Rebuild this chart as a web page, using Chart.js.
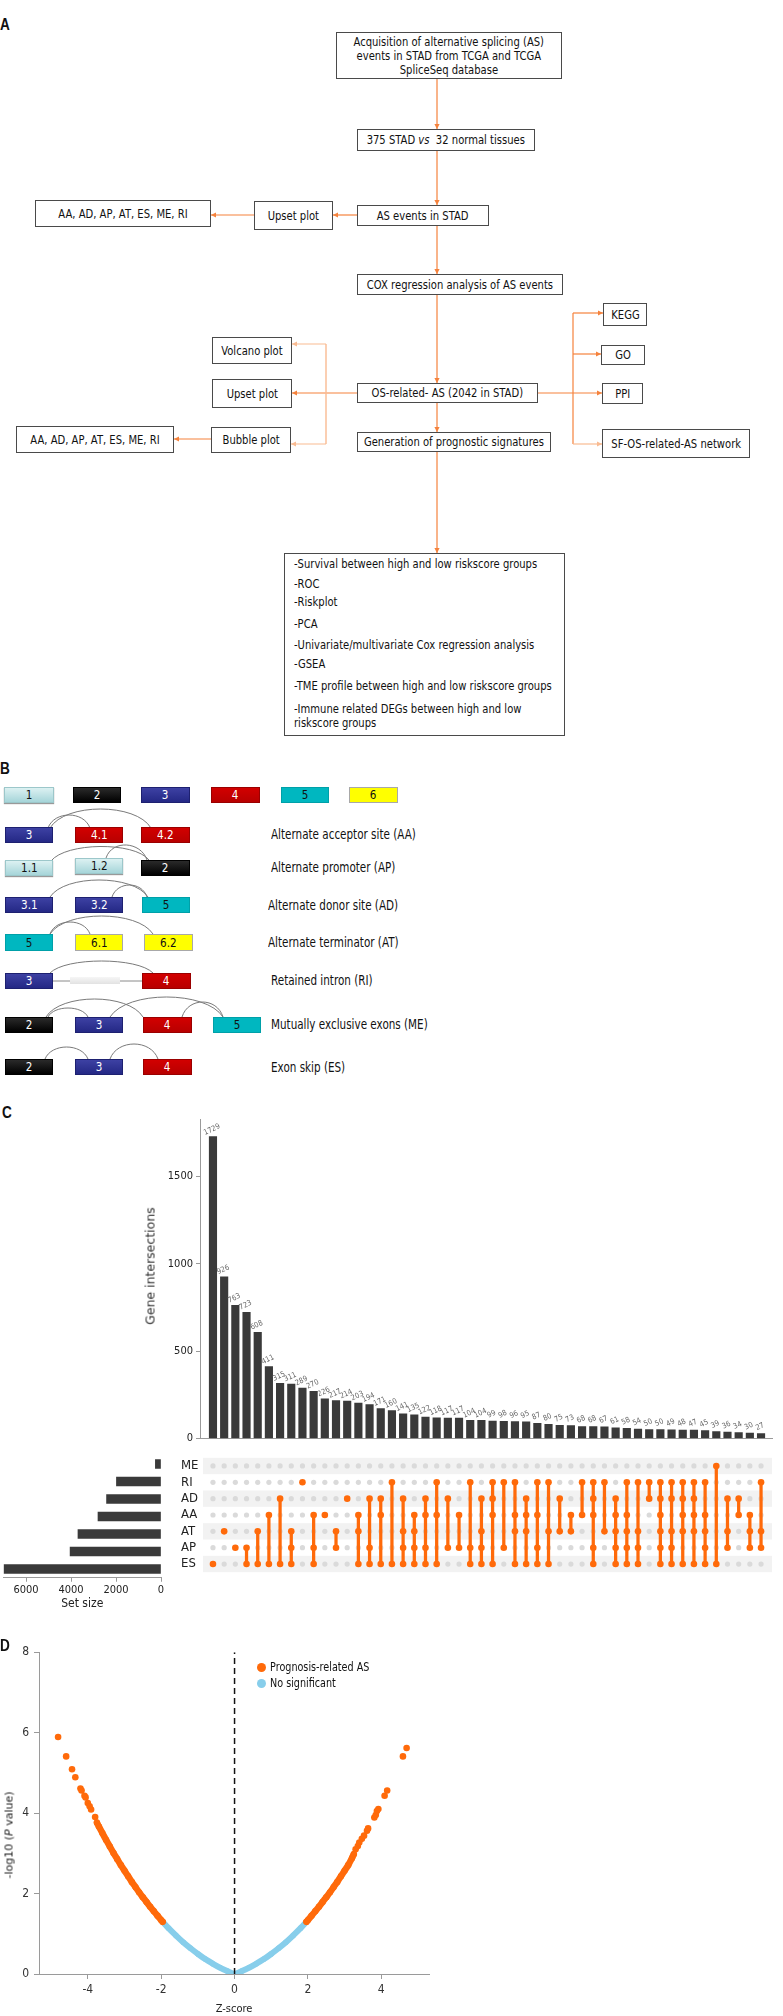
<!DOCTYPE html>
<html><head><meta charset="utf-8"><title>AS figure</title>
<script src="https://cdn.jsdelivr.net/npm/chart.js@4.4.1/dist/chart.umd.min.js"></script>
<style>
html,body{margin:0;padding:0;background:#fff;}
body{width:783px;height:2016px;position:relative;overflow:hidden;font-family:"DejaVu Sans",sans-serif;color:#111;}
#svg{position:absolute;left:0;top:0;}
.box{position:absolute;box-sizing:border-box;border:1px solid #4a4a4a;background:#fff;display:flex;flex-direction:column;align-items:center;justify-content:center;}
.t{display:block;white-space:nowrap;font-size:13px;line-height:14px;transform:scaleX(0.77);}
.lt{position:absolute;white-space:nowrap;font-size:13px;line-height:16px;transform:scaleX(0.77);transform-origin:0 50%;}
.exon{position:absolute;box-sizing:border-box;display:flex;align-items:center;justify-content:center;}
.exon span{display:block;white-space:nowrap;font-size:13px;line-height:14px;transform:scaleX(0.8);}
.lbl{position:absolute;font-family:"Liberation Sans",sans-serif;font-weight:bold;font-size:16px;line-height:16px;transform:scaleX(0.85);transform-origin:0 0;color:#111;}
canvas{position:absolute;}
.rot{position:absolute;white-space:nowrap;transform:translate(-50%,-50%) rotate(-90deg);}
</style></head>
<body>
<svg id="svg" width="783" height="2016" xmlns="http://www.w3.org/2000/svg"></svg>
<script>
// ================= DATA =================
// Panel C (UpSet plot)
const setNames = ['ME','RI','AD','AA','AT','AP','ES'];
const setSizes = [250, 1980, 2420, 2800, 3690, 4040, 6980];
const setSizeTicks = [0, 2000, 4000, 6000];
const countTicks = [0, 500, 1000, 1500];
const intersectionCounts = [1729,926,763,723,608,411,315,311,289,270,226,217,214,203,194,171,160,141,135,122,
  118,117,117,104,104,99,98,96,95,87,80,75,73,68,68,67,61,58,54,50,50,49,48,47,45,39,36,34,30,27];
const intersectionSets = [
  ['ES'],['AT'],['AP'],['AP','ES'],['AT','ES'],['AA','ES'],['AD','ES'],['AT','AP','ES'],['RI'],['AA','AP','ES'],
  ['AA'],['AT','AP'],['AD'],['AA','AT','ES'],['AD','AP','ES'],['AD','AA','ES'],['RI','ES'],['AD','AT','AP','ES'],['AA','AT','AP','ES'],['AD','AA','AP','ES'],
  ['RI','AA','ES'],['AD','AP'],['AA','AP'],['RI','AP','ES'],['AD','AT','AP','ES'],['RI','AD','AA','ES'],['RI','AP'],['RI','AA','AT','ES'],['AD','AA','AT','ES'],['RI','AA','AP','ES'],
  ['RI','AT','ES'],['AD','AT'],['AA','AT'],['RI','AA'],['RI','AD','AA','AP','ES'],['RI','AT'],['AD','AA','AT','AP','ES'],['RI','AA','AT','AP','ES'],['RI','AT','AP','ES'],['RI','AD'],
  ['RI','AD','AA','AT','AP','ES'],['RI','AD','AT','AP','ES'],['RI','AD','AA','AT','ES'],['RI','AD','AA','AT','ES'],['RI','AA','AT','AP','ES'],['ME','ES'],['AD','AT','AP'],['AD','AA'],['AA','AT','AP'],['RI','AT','AP']
];
// Panel D (volcano)
const sigLeftZ  = [-3.75,-3.7,-3.6,-3.5,-3.4,-3.3,-3.2,-3.1,-3.0,-2.9,-2.8,-2.7,-2.6,-2.5,-2.4,-2.3,-2.2,-2.1,-2.0,-1.96];
const sigLeftY  = [3.76,3.67,3.50,3.33,3.17,3.01,2.86,2.71,2.57,2.43,2.29,2.16,2.03,1.91,1.79,1.67,1.56,1.45,1.34,1.30];
const sigRightZ = [1.96,2.0,2.1,2.2,2.3,2.4,2.5,2.6,2.7,2.8,2.9,3.0,3.1,3.2,3.25];
const sigRightY = [1.30,1.34,1.45,1.56,1.67,1.79,1.91,2.03,2.16,2.29,2.43,2.57,2.71,2.88,2.98];
const sigSparseZ = [-4.81,-4.59,-4.43,-4.34,-4.20,-4.17,-4.09,-4.06,-4.00,-3.95,-3.91,-3.80,
  3.30,3.36,3.40,3.47,3.53,3.61,3.64,3.81,3.85,3.88,3.92,4.09,4.16,4.59,4.69];
const sigSparseY = [5.89,5.41,5.09,4.89,4.61,4.56,4.43,4.39,4.25,4.17,4.09,3.90,
  3.10,3.18,3.27,3.36,3.44,3.56,3.62,3.89,3.95,4.05,4.10,4.43,4.56,5.41,5.62];
const noSigZ = [-1.95,-1.8,-1.6,-1.4,-1.2,-1.0,-0.8,-0.6,-0.4,-0.2,0,0.2,0.4,0.6,0.8,1.0,1.2,1.4,1.6,1.8,1.95];
const noSigY = [1.29,1.14,0.96,0.79,0.64,0.50,0.37,0.26,0.16,0.075,0,0.075,0.16,0.26,0.37,0.50,0.64,0.79,0.96,1.14,1.29];
const zTicks = [-4,-2,0,2,4];
const pTicks = [0,2,4,6,8];
const zeroLineY = [0, 8];

// ================= HELPERS =================
const body = document.body;
const svg = document.getElementById('svg');
const NS = 'http://www.w3.org/2000/svg';
function el(tag, attrs){ const e=document.createElementNS(NS,tag); for(const k in attrs) e.setAttribute(k,attrs[k]); svg.appendChild(e); return e; }
const ORG = '#f5823c', ORG_L = '#f9bb92';
function arrow(x1,y1,x2,y2,c){
  el('line',{x1,y1,x2,y2,stroke:c,'stroke-width':1.2});
  const a=Math.atan2(y2-y1,x2-x1), L=5, W=2.6;
  const bx=x2-L*Math.cos(a), by=y2-L*Math.sin(a);
  const px=-Math.sin(a)*W, py=Math.cos(a)*W;
  el('polygon',{points:`${x2},${y2} ${bx+px},${by+py} ${bx-px},${by-py}`,fill:c});
}
function line(x1,y1,x2,y2,c,w){ el('line',{x1,y1,x2,y2,stroke:c,'stroke-width':w||1.2}); }
function box(x1,y1,x2,y2,lines){
  const d=document.createElement('div'); d.className='box';
  Object.assign(d.style,{left:x1+'px',top:y1+'px',width:(x2-x1)+'px',height:(y2-y1)+'px'});
  lines.forEach(h=>{const s=document.createElement('span'); s.className='t'; s.innerHTML=h; d.appendChild(s);});
  body.appendChild(d); return d;
}
function ltext(x,y,html,size){
  const s=document.createElement('span'); s.className='lt'; s.innerHTML=html;
  if(size) s.style.fontSize=size+'px';
  s.style.left=x+'px'; s.style.top=(y-8)+'px'; body.appendChild(s); return s;
}
function panelLabel(t,x,y){ const s=document.createElement('div'); s.className='lbl'; s.textContent=t; s.style.left=x+'px'; s.style.top=y+'px'; body.appendChild(s); }

// ================= PANEL A =================
panelLabel('A',0,17);
arrow(437,79,437,129,ORG);
arrow(437,151,437,205,ORG);
arrow(357,215,333,215,ORG);
arrow(254,215,211,215,ORG);
arrow(437,226,437,274,ORG);
arrow(437,295,437,383,ORG);
arrow(357,393,292,393,ORG);
line(326,344,326,444,ORG_L,1.4);
arrow(326,344,292,344,ORG_L);
arrow(326,444,291,444,ORG_L);
arrow(211,439,174,439,ORG);
arrow(538,393,602,393,ORG);
line(573,313,573,444,ORG,1.2);
arrow(573,313,603,313,ORG);
arrow(573,354,601,354,ORG);
arrow(573,444,602,444,ORG_L);
arrow(437,403,437,432,ORG);
arrow(437,452,437,553,ORG);

box(336,32,562,79,['Acquisition of alternative splicing (AS)','events in STAD from TCGA and TCGA','SpliceSeq database']);
box(357,129,535,151,['375 STAD <i>vs</i>&nbsp; 32 normal tissues']);
box(357,205,489,226,['AS events in STAD']);
box(254,201,333,230,['Upset plot']);
box(35,200,211,227,['AA, AD, AP, AT, ES, ME, RI']);
box(357,274,563,295,['COX regression analysis of AS events']);
box(357,383,538,403,['OS-related- AS (2042 in STAD)']);
box(212,337,292,364,['Volcano plot']);
box(212,379,292,408,['Upset plot']);
box(211,427,291,453,['Bubble plot']);
box(16,426,174,453,['AA, AD, AP, AT, ES, ME, RI']);
box(603,303,647,326,['KEGG']);
box(601,345,645,365,['GO']);
box(602,383,643,404,['PPI']);
box(602,429,750,458,['SF-OS-related-AS network']);
box(357,432,551,452,['Generation of prognostic signatures']);
box(284,553,565,736,[]);
[[564,'-Survival between high and low riskscore groups'],[584,'-ROC'],[602,'-Riskplot'],[624,'-PCA'],
 [645,'-Univariate/multivariate Cox regression analysis'],[664,'-GSEA'],[686,'-TME profile between high and low riskscore groups'],
 [709,'-Immune related DEGs between high and low'],[723,'riskscore groups']].forEach(([y,t])=>ltext(294,y,t));

// ================= PANEL B =================
panelLabel('B',0,761);
const EX = {
  light:{bg:'linear-gradient(#dcf1f2,#a6d5d9)',bd:'#9cc7ca',fg:'#111'},
  black:{bg:'linear-gradient(#2a2a2a,#000)',bd:'#000',fg:'#fff'},
  navy:{bg:'linear-gradient(#3d41a3,#242885)',bd:'#1d2070',fg:'#fff'},
  red:{bg:'linear-gradient(#d20000,#b80000)',bd:'#9a0000',fg:'#fff'},
  teal:{bg:'#00b7c0',bd:'#00a0a8',fg:'#111'},
  yellow:{bg:'#ffff00',bd:'#a8a8a8',fg:'#111'}
};
function exon(x1,y1,x2,y2,type,txt){
  const d=document.createElement('div'); d.className='exon'; const s=EX[type];
  Object.assign(d.style,{left:x1+'px',top:y1+'px',width:(x2-x1)+'px',height:(y2-y1)+'px',background:s.bg,border:'1px solid '+s.bd,color:s.fg});
  if(type==='light') d.style.boxShadow='0 1px 1px #999';
  const sp=document.createElement('span'); sp.textContent=txt; d.appendChild(sp); body.appendChild(d);
}
function arc(x1,y1,x2,y2,peak){
  const k=(Math.min(y1,y2)-peak)*4/3, dx=(x2-x1)*0.15;
  el('path',{d:`M${x1},${y1} C${x1+dx},${y1-k} ${x2-dx},${y2-k} ${x2},${y2}`,fill:'none',stroke:'#7a7a7a','stroke-width':1});
}
exon(4,787,54,803,'light','1'); exon(73,787,121,803,'black','2'); exon(141,787,190,803,'navy','3');
exon(211,787,260,803,'red','4'); exon(281,787,329,803,'teal','5'); exon(349,787,398,803,'yellow','6');
arc(48,828,90,828,815); arc(50,828,151,828,809);
exon(5,827,53,843,'navy','3'); exon(75,827,123,843,'red','4.1'); exon(141,827,190,843,'red','4.2');
ltext(271,834,'Alternate acceptor site (AA)',13.5);
arc(51,861,149,860,846); arc(106,858,147,860,844);
exon(5,860,53,876,'light','1.1'); exon(75,858,123,874,'light','1.2'); exon(141,860,190,876,'black','2');
ltext(271,867,'Alternate promoter (AP)',13.5);
arc(50,897,148,897,880); arc(112,897,147,897,885);
exon(5,897,53,913,'navy','3.1'); exon(75,897,123,913,'navy','3.2'); exon(142,897,190,913,'teal','5');
ltext(268,905,'Alternate donor site (AD)',13.5);
arc(50,934,90,934,922); arc(50,934,153,934,916);
exon(5,934,53,951,'teal','5'); exon(75,934,123,951,'yellow','6.1'); exon(144,934,193,951,'yellow','6.2');
ltext(268,942,'Alternate terminator (AT)',13.5);
arc(50,973,153,973,961);
line(53,981,142,981,'#8a8a8a',1);
const intr=document.createElement('div'); Object.assign(intr.style,{position:'absolute',left:'70px',top:'977px',width:'50px',height:'7px',background:'linear-gradient(#f6f6f6,#e2e2e2)'}); body.appendChild(intr);
exon(5,973,53,989,'navy','3'); exon(142,973,191,989,'red','4');
ltext(271,980,'Retained intron (RI)',13.5);
arc(48,1017,88,1017,1008); arc(46,1017,143,1017,999); arc(110,1017,223,1017,997); arc(182,1017,223,1017,1002);
exon(5,1017,53,1033,'black','2'); exon(75,1017,123,1033,'navy','3'); exon(143,1017,192,1033,'red','4'); exon(213,1017,261,1033,'teal','5');
ltext(271,1024,'Mutually exclusive exons (ME)',13.5);
arc(45,1059,88,1059,1047); arc(110,1059,158,1059,1044);
exon(5,1059,53,1075,'black','2'); exon(75,1059,123,1075,'navy','3'); exon(143,1059,192,1075,'red','4');
ltext(271,1067,'Exon skip (ES)',13.5);

// ================= CHART HELPERS =================
Chart.defaults.font.family = "'DejaVu Sans Condensed','DejaVu Sans',sans-serif";
Chart.defaults.animation = false;
function mkCanvas(left,top,w,h){
  const c=document.createElement('canvas'); c.width=w; c.height=h;
  Object.assign(c.style,{left:left+'px',top:top+'px',width:w+'px',height:h+'px'});
  body.appendChild(c); return c;
}
const ORANGE = '#ff6a0a';
const BAR = '#3a3a3a';
const AXIS = '#9a9a9a';
const plain = v => String(v);

// ================= PANEL C =================
panelLabel('C',2,1105);
const labelPlugin = {id:'barLabels', afterDatasetsDraw(chart){
  const ctx=chart.ctx, meta=chart.getDatasetMeta(0);
  ctx.save(); ctx.font="7.5px 'DejaVu Sans Condensed','DejaVu Sans',sans-serif"; ctx.fillStyle='#666';
  ctx.textAlign='center'; ctx.textBaseline='middle';
  meta.data.forEach((b,i)=>{ ctx.save(); ctx.translate(b.x-1,b.y-7); ctx.rotate(-25*Math.PI/180); ctx.fillText(String(intersectionCounts[i]),0,0); ctx.restore(); });
  ctx.restore();
}};
new Chart(mkCanvas(150,1100,633,348), {
  type:'bar',
  data:{datasets:[{data:intersectionCounts.map((v,i)=>({x:i,y:v})), backgroundColor:BAR, barThickness:7.5}]},
  options:{responsive:false, layout:{padding:{left:0,right:11,top:19,bottom:1}},
    plugins:{legend:{display:false},tooltip:{enabled:false}},
    scales:{
      x:{type:'linear',min:-1.16,max:49.98,offset:false,grid:{display:false},ticks:{display:false},border:{display:true,color:AXIS},afterFit:s=>{s.height=0;}},
      y:{min:0,max:1830,afterBuildTicks:s=>{s.ticks=countTicks.map(v=>({value:v}));},
         grid:{drawOnChartArea:false,tickLength:4,color:AXIS},border:{color:AXIS},
         ticks:{font:{size:11},color:'#222',padding:3,callback:plain},afterFit:s=>{s.width=50;}}
    }},
  plugins:[labelPlugin]
});
const gi=document.createElement('div'); gi.className='rot'; gi.textContent='Gene intersections';
Object.assign(gi.style,{left:'150px',top:'1266px',fontSize:'12.5px',color:'#333'}); body.appendChild(gi);

const grayPts=[], orangePts=[], links=[];
intersectionSets.forEach((s,i)=>{
  const idx=s.map(n=>setNames.indexOf(n));
  setNames.forEach((n,j)=>{ (idx.includes(j)?orangePts:grayPts).push({x:i,y:j}); });
  links.push({x:i,y:[Math.min(...idx),Math.max(...idx)]});
});
const bandPlugin={id:'bands',beforeDatasetsDraw(chart){
  const {ctx,chartArea:a,scales:{y}}=chart; ctx.save(); ctx.fillStyle='#f2f2f2';
  for(let i=0;i<setNames.length;i+=2){ const t=y.getPixelForValue(i-0.5), b=y.getPixelForValue(i+0.5); ctx.fillRect(a.left+3,Math.min(t,b),a.right-a.left-3,Math.abs(b-t)); }
  ctx.restore();
}};
new Chart(mkCanvas(150,1450,633,130), {
  type:'bar',
  data:{datasets:[
    {type:'scatter',data:grayPts,pointRadius:2.6,pointBackgroundColor:'#dadada',pointBorderWidth:0,order:3},
    {type:'bar',data:links,backgroundColor:ORANGE,barThickness:2.6,order:2},
    {type:'scatter',data:orangePts,pointRadius:3.3,pointBackgroundColor:ORANGE,pointBorderWidth:0,order:1}
  ]},
  options:{responsive:false, layout:{padding:{left:31,right:11,top:5.25,bottom:2.25}},
    plugins:{legend:{display:false},tooltip:{enabled:false}},
    scales:{
      x:{type:'linear',min:-1.16,max:49.98,offset:false,display:false},
      y:{type:'linear',reverse:true,min:-0.5,max:6.5,afterBuildTicks:s=>{s.ticks=setNames.map((_,i)=>({value:i}));},
         ticks:{callback:v=>setNames[v],autoSkip:false,font:{size:13},color:'#222',crossAlign:'far',padding:0},
         grid:{display:false},border:{display:false},afterFit:s=>{s.width=19;}}
    }},
  plugins:[bandPlugin]
});

new Chart(mkCanvas(0,1450,170,170), {
  type:'bar',
  data:{labels:setNames,datasets:[{data:setSizes,backgroundColor:BAR,barThickness:9}]},
  options:{responsive:false, indexAxis:'y', layout:{padding:{left:3.5,right:9,top:5.25,bottom:0}},
    plugins:{legend:{display:false},tooltip:{enabled:false}},
    scales:{
      x:{type:'linear',reverse:true,min:0,max:7000,afterBuildTicks:s=>{s.ticks=setSizeTicks.map(v=>({value:v}));},
         grid:{drawOnChartArea:false,tickLength:4,color:AXIS},border:{color:AXIS},
         ticks:{font:{size:11},color:'#222',padding:2,maxRotation:0,autoSkip:false,callback:plain},
         title:{display:true,text:'Set size',font:{size:12},color:'#222',padding:{top:0,bottom:8.8}},
         afterFit:s=>{s.height=42.25;}},
      y:{display:false}
    }}
});

// ================= PANEL D =================
panelLabel('D',0,1638);
const zip=(a,b)=>a.map((v,i)=>({x:v,y:b[i]}));
new Chart(mkCanvas(0,1640,440,376), {
  type:'scatter',
  data:{datasets:[
    {data:zip(noSigZ,noSigY),showLine:true,borderColor:'#87ceeb',borderWidth:6,pointRadius:2.8,pointBackgroundColor:'#87ceeb',pointBorderWidth:0,tension:0.35,borderCapStyle:'round',order:5},
    {data:zip(sigLeftZ,sigLeftY),showLine:true,borderColor:ORANGE,borderWidth:6.5,pointRadius:3.2,pointBackgroundColor:ORANGE,pointBorderWidth:0,tension:0.3,borderCapStyle:'round',order:4},
    {data:zip(sigRightZ,sigRightY),showLine:true,borderColor:ORANGE,borderWidth:6.5,pointRadius:3.2,pointBackgroundColor:ORANGE,pointBorderWidth:0,tension:0.3,borderCapStyle:'round',order:3},
    {data:zip(sigSparseZ,sigSparseY),pointRadius:3.3,pointBackgroundColor:ORANGE,pointBorderWidth:0,order:2},
    {data:zeroLineY.map(v=>({x:0,y:v})),showLine:true,borderColor:'#111',borderWidth:1.5,borderDash:[6,4],pointRadius:0,order:1}
  ]},
  options:{responsive:false, layout:{padding:{left:0,right:11,top:12,bottom:0}},
    plugins:{legend:{display:false},tooltip:{enabled:false}},
    scales:{
      x:{type:'linear',min:-5.33,max:5.30,afterBuildTicks:s=>{s.ticks=zTicks.map(v=>({value:v}));},
         grid:{drawOnChartArea:false,tickLength:5,color:AXIS},border:{color:AXIS},
         ticks:{font:{size:12},color:'#333',padding:4,autoSkip:false,callback:plain},
         title:{display:true,text:'Z-score',font:{size:11},color:'#222',padding:{top:0,bottom:0.4}},
         afterFit:s=>{s.height=42;}},
      y:{type:'linear',min:0,max:8,afterBuildTicks:s=>{s.ticks=pTicks.map(v=>({value:v}));},
         grid:{drawOnChartArea:false,tickLength:5,color:AXIS},border:{color:AXIS},
         ticks:{font:{size:12},color:'#333',padding:5,autoSkip:false,callback:plain},
         afterFit:s=>{s.width=39;}}
    }}
});
const yl=document.createElement('div'); yl.className='rot'; yl.innerHTML='-log10 (<i>P</i> value)';
Object.assign(yl.style,{left:'9px',top:'1835px',fontSize:'11px',color:'#222'}); body.appendChild(yl);
function legendItem(y,color,text){
  const c=document.createElement('div'); Object.assign(c.style,{position:'absolute',left:'256.5px',top:(y-4.5)+'px',width:'9px',height:'9px',borderRadius:'50%',background:color}); body.appendChild(c);
  ltext(270,y,text,12.5);
}
legendItem(1667,ORANGE,'Prognosis-related AS');
legendItem(1683,'#87ceeb','No significant');
</script>
</body></html>
